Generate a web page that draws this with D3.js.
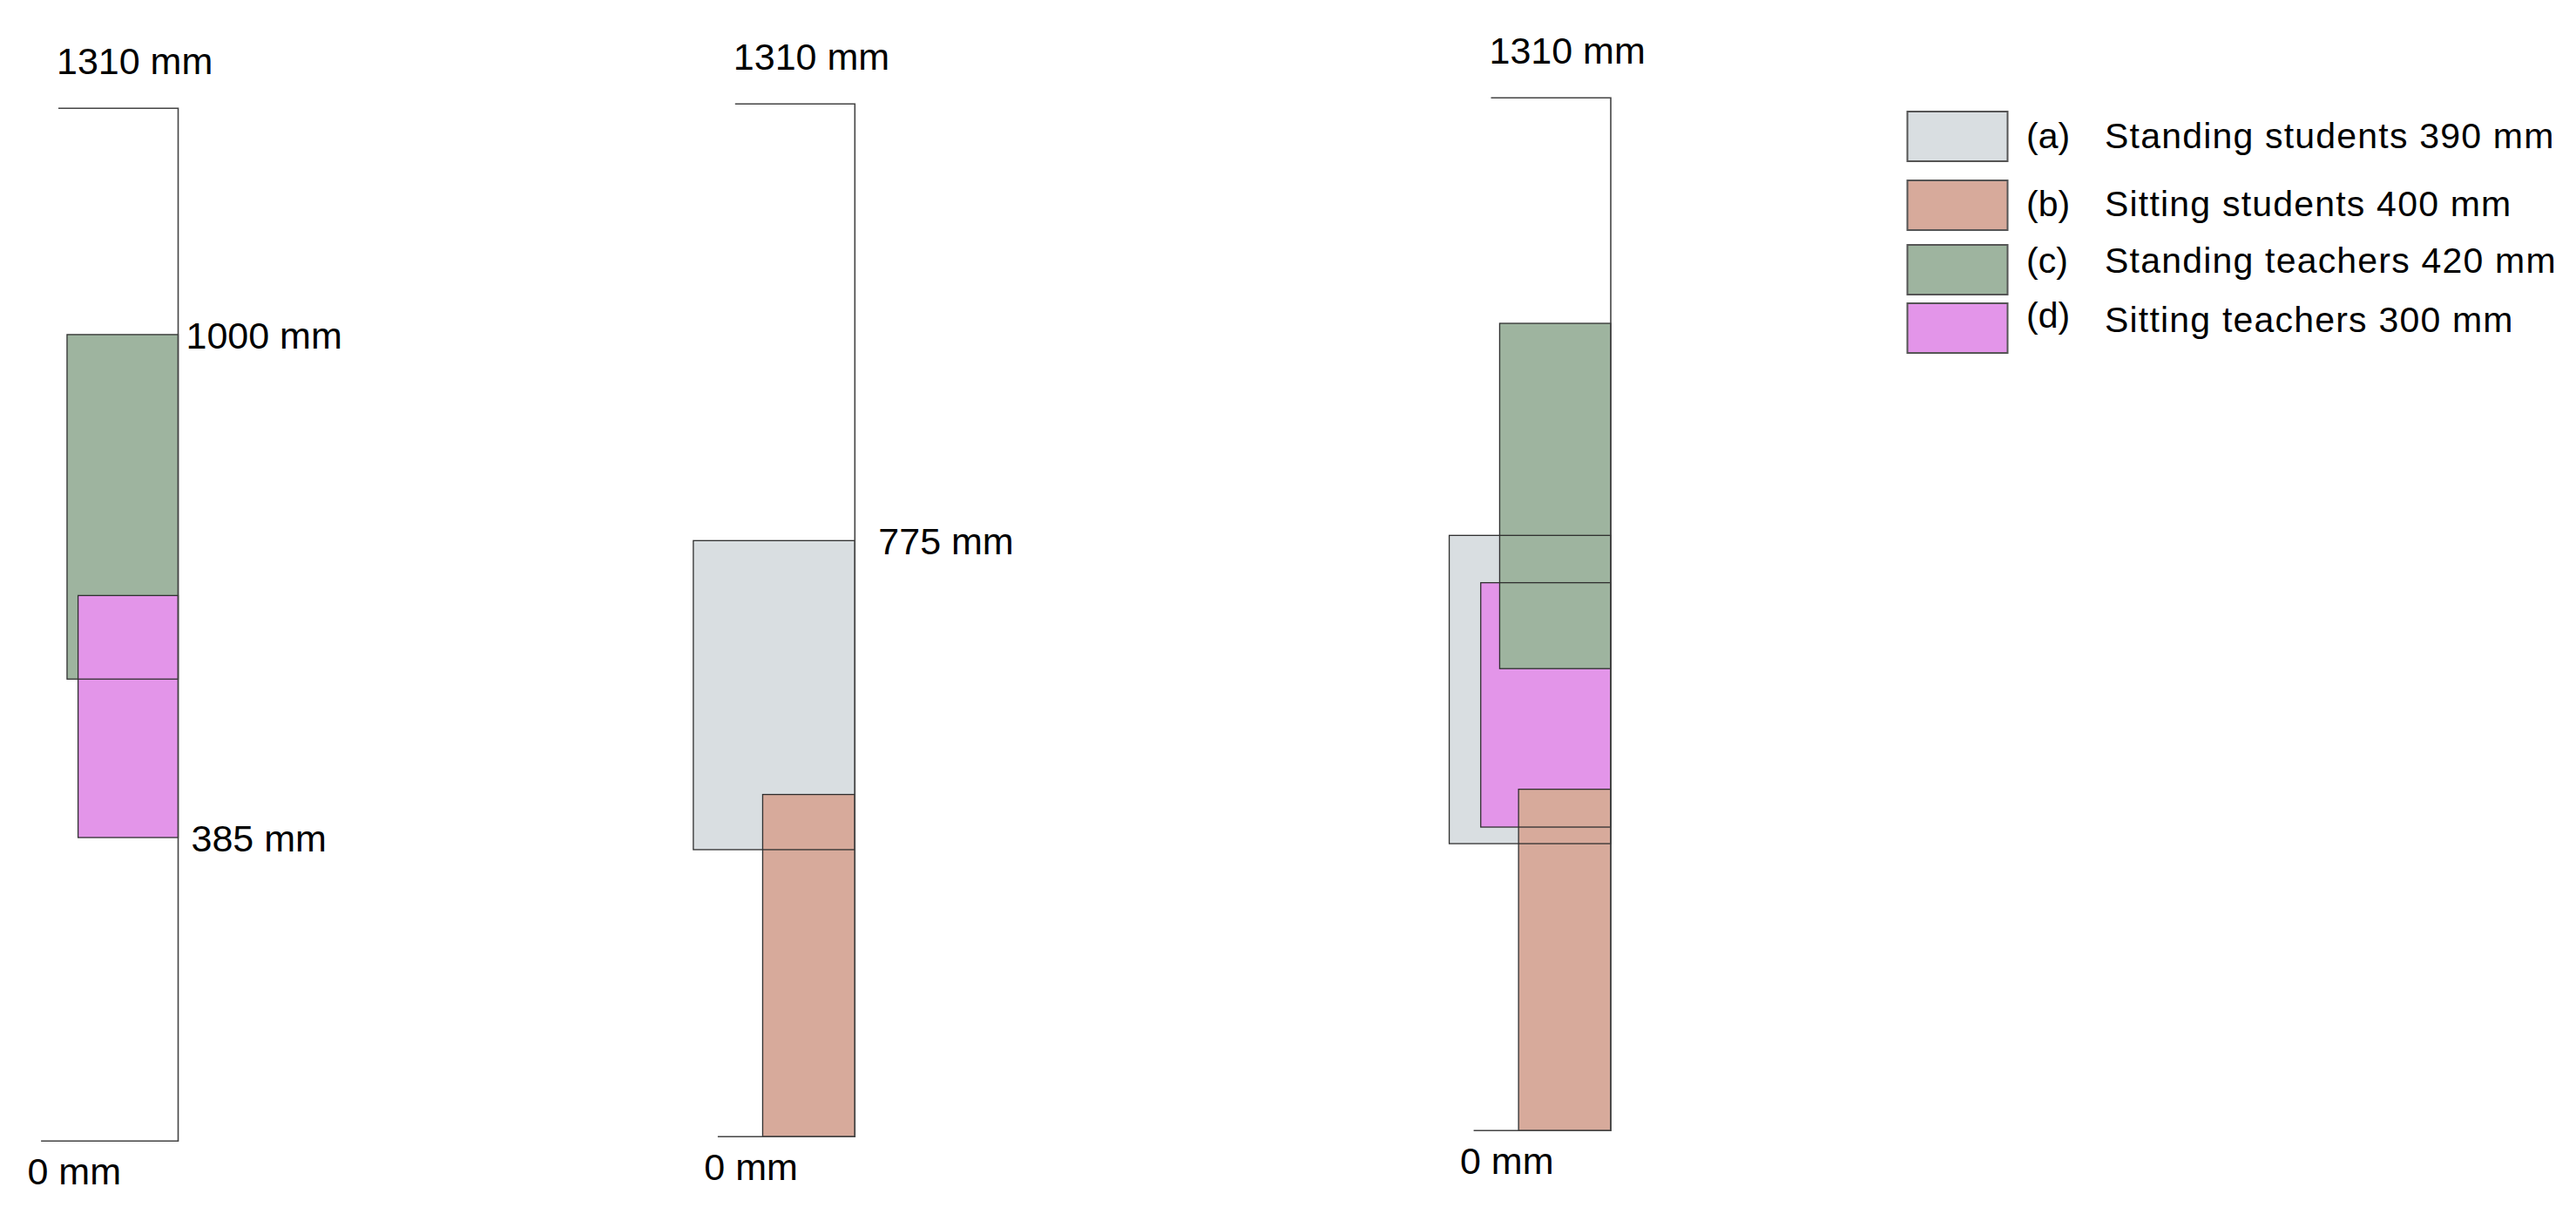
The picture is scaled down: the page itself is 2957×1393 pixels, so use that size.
<!DOCTYPE html>
<html>
<head>
<meta charset="utf-8">
<script src="https://cdn.jsdelivr.net/npm/d3@7"></script>
<style>
  html, body { margin: 0; padding: 0; background: #fff; }
  text { font-family: "Liberation Sans", Arial, sans-serif; fill: #000; }
</style>
</head>
<body>
<div class="chart"></div>
<script>
// Data
const categories = ["Standing students", "Sitting students", "Standing teachers", "Sitting teachers"];
const letters = ["(a)", "(b)", "(c)", "(d)"];
const heights = [390, 400, 420, 300];
const colors = ["#d9dee1", "#d7aa9b", "#9eb49f", "#e395e9"];
const axisMax = 1310;

// zones per panel: category, from (mm), to (mm), depth (mm), in drawing order
const panel1 = [
    { cat: 2, from: 586, to: 1023, depth: 141 },
    { cat: 3, from: 385, to: 692, depth: 127 }
];
const panel2 = [
    { cat: 0, from: 364, to: 756, depth: 205 },
    { cat: 1, from: 0, to: 434, depth: 117 }
];
const panel3 = [
    { cat: 0, from: 364, to: 755, depth: 205 },
    { cat: 3, from: 385, to: 695, depth: 165 },
    { cat: 2, from: 586, to: 1024, depth: 141 },
    { cat: 1, from: 0, to: 433, depth: 117 }
];

// labels at zone edges
const notes1 = [
    { text: "1000 mm", cat: 2, edge: "to", dx: 9 },
    { text: "385 mm", cat: 3, edge: "from", dx: 15 }
];
const notes2 = [
    { text: "775 mm", cat: 0, edge: "to", dx: 27 }
];
const notes3 = [];

// Layout
const panels = [
    { zones: panel1, notes: notes1, axisX: 204.5, base: 1309.3 },
    { zones: panel2, notes: notes2, axisX: 981.3, base: 1304.2 },
    { zones: panel3, notes: notes3, axisX: 1849, base: 1297.3 }
];
const plotHeight = 1185;
const topTick = 152, baseTick = 174;
const legendX = 2189.5, legendRowY = [128, 207, 281, 348];
const legendTextY = [170, 248, 313, 381], legendLetterY = [170, 248, 313, 376];

function createChart() {
    const svg = d3.select("div.chart").append("svg")
        .attr("width", 2957)
        .attr("height", 1393);

    panels.forEach(p => {
        const g = svg.append("g");

        const y = d3.scaleLinear()
            .domain([0, axisMax])
            .range([p.base, p.base - plotHeight]);

        // horizontal scale runs leftwards from the axis line
        const x = d3.scaleLinear()
            .domain([0, axisMax])
            .range([p.axisX, p.axisX - plotHeight]);

        // fills first
        g.selectAll(".zone")
            .data(p.zones)
            .enter().append("rect")
            .attr("class", "zone")
            .attr("x", d => x(d.depth))
            .attr("y", d => y(d.to))
            .attr("width", d => x(0) - x(d.depth))
            .attr("height", d => y(d.from) - y(d.to))
            .attr("fill", d => colors[d.cat]);

        // then outlines on top
        g.selectAll(".outline")
            .data(p.zones)
            .enter().append("rect")
            .attr("class", "outline")
            .attr("x", d => x(d.depth))
            .attr("y", d => y(d.to))
            .attr("width", d => x(0) - x(d.depth))
            .attr("height", d => y(d.from) - y(d.to))
            .attr("fill", "none")
            .attr("stroke", "#2f2f2f")
            .attr("stroke-width", 1.3);

        // frame: top tick, vertical line, base tick
        const frame = d3.line()([
            [x(topTick), y(axisMax)],
            [x(0), y(axisMax)],
            [x(0), y(0)],
            [x(baseTick), y(0)]
        ]);
        g.append("path")
            .attr("d", frame)
            .attr("fill", "none")
            .attr("stroke", "#444")
            .attr("stroke-width", 1.6);

        g.append("text")
            .attr("x", x(0) - 139.5)
            .attr("y", y(axisMax) - 39.5)
            .style("font-size", "43px")
            .text(axisMax + " mm");

        g.append("text")
            .attr("x", x(0) - 173)
            .attr("y", y(0) + 50)
            .style("font-size", "43px")
            .text("0 mm");

        g.selectAll(".note")
            .data(p.notes)
            .enter().append("text")
            .attr("class", "note")
            .attr("x", d => x(0) + d.dx)
            .attr("y", d => {
                const z = p.zones.find(z => z.cat === d.cat);
                return y(z[d.edge]) + 16;
            })
            .style("font-size", "43px")
            .text(d => d.text);
    });

    // legend
    const legend = svg.append("g");
    const rows = legend.selectAll(".row")
        .data(categories)
        .enter().append("g")
        .attr("class", "row");

    rows.append("rect")
        .attr("x", legendX)
        .attr("y", (d, i) => legendRowY[i])
        .attr("width", 115)
        .attr("height", 57)
        .attr("fill", (d, i) => colors[i])
        .attr("stroke", "#555")
        .attr("stroke-width", 2);

    rows.append("text")
        .attr("x", 2326)
        .attr("y", (d, i) => legendLetterY[i])
        .style("font-size", "41px")
        .text((d, i) => letters[i]);

    rows.append("text")
        .attr("x", 2416)
        .attr("y", (d, i) => legendTextY[i])
        .style("font-size", "41px")
        .style("letter-spacing", "1.2px")
        .text((d, i) => d + " " + heights[i] + " mm");
}

createChart();
</script>
</body>
</html>
